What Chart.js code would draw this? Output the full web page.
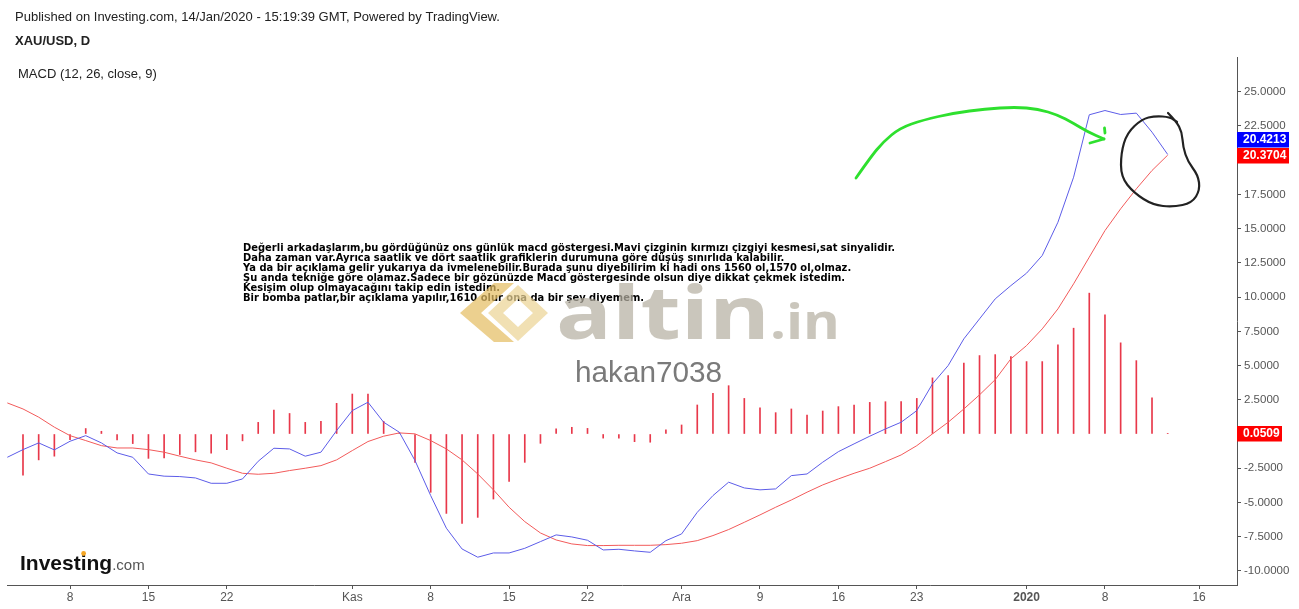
<!DOCTYPE html>
<html><head><meta charset="utf-8">
<script src="https://cdn.jsdelivr.net/npm/chart.js@4.4.1/dist/chart.umd.min.js"></script>
<style>html,body{margin:0;padding:0;background:#fff;overflow:hidden}canvas{display:block}</style>
</head><body>
<canvas id="c" width="1299" height="609"></canvas>
<script>
// ---- data ----
const dates = [
'2019-10-02','2019-10-03','2019-10-04','2019-10-07','2019-10-08','2019-10-09','2019-10-10','2019-10-11','2019-10-14','2019-10-15',
'2019-10-16','2019-10-17','2019-10-18','2019-10-21','2019-10-22','2019-10-23','2019-10-24','2019-10-25','2019-10-28','2019-10-29',
'2019-10-30','2019-10-31','2019-11-01','2019-11-04','2019-11-05','2019-11-06','2019-11-07','2019-11-08','2019-11-11','2019-11-12',
'2019-11-13','2019-11-14','2019-11-15','2019-11-18','2019-11-19','2019-11-20','2019-11-21','2019-11-22','2019-11-25','2019-11-26',
'2019-11-27','2019-11-28','2019-11-29','2019-12-02','2019-12-03','2019-12-04','2019-12-05','2019-12-06','2019-12-09','2019-12-10',
'2019-12-11','2019-12-12','2019-12-13','2019-12-16','2019-12-17','2019-12-18','2019-12-19','2019-12-20','2019-12-23','2019-12-24',
'2019-12-25','2019-12-26','2019-12-27','2019-12-30','2019-12-31','2020-01-01','2020-01-02','2020-01-03','2020-01-06','2020-01-07',
'2020-01-08','2020-01-09','2020-01-10','2020-01-13','2020-01-14','2020-01-15','2020-01-16'];

const macd = [
-1.70,-1.14,-0.65,-1.16,-0.53,-0.12,-0.65,-1.38,-1.70,-2.92,
-3.08,-3.11,-3.21,-3.60,-3.60,-3.28,-1.99,-1.04,-1.09,-1.62,
-1.33,0.25,1.71,2.32,0.86,0.13,-1.94,-4.50,-6.88,-8.40,
-9.00,-8.69,-8.69,-8.35,-7.86,-7.37,-7.52,-7.76,-8.47,-8.42,
-8.54,-8.64,-7.79,-7.30,-5.72,-4.50,-3.52,-3.94,-4.08,-4.01,
-3.04,-2.92,-2.06,-1.29,-0.72,-0.16,0.37,0.86,1.71,3.66,
5.00,6.95,8.41,9.87,10.84,11.75,13.04,15.47,18.76,23.32,
23.63,23.34,23.44,22.05,20.42];

const signal = [
2.27,1.83,1.23,0.50,-0.12,-0.48,-0.85,-1.02,-1.02,-1.14,
-1.33,-1.62,-1.89,-2.11,-2.50,-2.87,-2.94,-2.87,-2.67,-2.50,
-2.31,-1.89,-1.21,-0.55,-0.16,0.08,0.01,-0.48,-1.09,-1.89,
-2.92,-4.08,-5.35,-6.40,-7.23,-7.74,-8.03,-8.15,-8.15,-8.13,
-8.13,-8.13,-8.08,-7.98,-7.79,-7.42,-6.98,-6.45,-5.91,-5.35,
-4.82,-4.25,-3.72,-3.28,-2.87,-2.50,-2.02,-1.53,-0.85,0.01,
0.86,1.83,2.86,3.97,5.49,6.46,7.68,9.14,10.97,12.92,
14.86,16.45,17.91,19.25,20.37];

const hist = [
null,-3.00,-1.89,-1.62,-0.41,0.40,0.20,-0.44,-0.70,-1.78,
-1.75,-1.50,-1.30,-1.40,-1.15,-0.50,0.85,1.75,1.50,0.85,
0.93,2.24,2.92,2.92,0.93,0.10,-2.07,-4.26,-5.80,-6.53,
-6.09,-4.75,-3.46,-2.07,-0.68,0.37,0.49,0.41,-0.30,-0.30,
-0.56,-0.60,0.30,0.66,2.12,2.97,3.53,2.60,1.92,1.56,
1.83,1.39,1.68,2.00,2.12,2.31,2.36,2.36,2.60,4.10,
4.26,5.19,5.73,5.80,5.66,5.29,5.29,6.51,7.73,10.29,
8.70,6.66,5.36,2.64,0.05];

const xTickDates  = ['2019-10-08','2019-10-15','2019-10-22','2019-11-01','2019-11-08','2019-11-15','2019-11-22','2019-12-02','2019-12-09','2019-12-16','2019-12-23','2020-01-01','2020-01-08','2020-01-16'];
const xTickLabels = ['8','15','22','Kas','8','15','22','Ara','9','16','23','2020','8','16'];
const yTicks = [-10,-7.5,-5,-2.5,0,2.5,5,7.5,10,12.5,15,17.5,20,22.5,25];
const badgeLabels = ['20.4213','20.3704','0.0509'];

const headerTitle = 'Published on Investing.com, 14/Jan/2020 - 15:19:39 GMT, Powered by TradingView.';
const symbolTitle = 'XAU/USD, D';
const indicatorTitle = 'MACD (12, 26, close, 9)';
const noteLines = [
'Değerli arkadaşlarım,bu gördüğünüz ons günlük macd göstergesi.Mavi çizginin kırmızı çizgiyi kesmesi,sat sinyalidir.',
'Daha zaman var.Ayrıca saatlik ve dört saatlik grafiklerin durumuna göre düşüş sınırlıda kalabilir.',
'Ya da bir açıklama gelir yukarıya da ivmelenebilir.Burada şunu diyebilirim ki hadi ons 1560 ol,1570 ol,olmaz.',
'Şu anda tekniğe göre olamaz.Sadece bir gözünüzde Macd göstergesinde olsun diye dikkat çekmek istedim.',
'Kesişim olup olmayacağını takip edin istedim.',
'Bir bomba patlar,bir açıklama yapılır,1610 olur ona da bir şey diyemem.'];

// ---- helpers ----
const pts = arr => arr.map((v,i)=>({x:i,y:v}));
const SANS = '"Liberation Sans", Arial, sans-serif';

function smoothPath(ctx, p){
  ctx.beginPath();
  ctx.moveTo(p[0][0],p[0][1]);
  for(let i=1;i<p.length-1;i++){
    const mx=(p[i][0]+p[i+1][0])/2, my=(p[i][1]+p[i+1][1])/2;
    ctx.quadraticCurveTo(p[i][0],p[i][1],mx,my);
  }
  const l=p[p.length-1]; ctx.lineTo(l[0],l[1]);
  ctx.stroke();
}

const decor = {
  id:'decor',
  beforeDatasetsDraw(chart){
    const ctx = chart.ctx;
    ctx.save();
    // annotation text block
    ctx.font = 'bold 11px "DejaVu Sans", Verdana, sans-serif';
    ctx.fillStyle = '#000';
    ctx.textBaseline = 'middle';
    const w0 = ctx.measureText(noteLines[0]).width;
    const sx = 652 / w0;
    noteLines.forEach((t,i)=>{
      ctx.save();
      ctx.translate(243, 248.5 + i*10);
      ctx.scale(sx,1);
      ctx.fillText(t,0,0);
      ctx.restore();
    });
    // watermark chevron (gold)
    ctx.globalAlpha = 0.72;
    ctx.fillStyle = 'rgb(228,190,100)';
    ctx.beginPath();
    ctx.moveTo(460,313); ctx.lineTo(494,283); ctx.lineTo(514,283); ctx.lineTo(481,313);
    ctx.lineTo(514,342); ctx.lineTo(494,342); ctx.closePath(); ctx.fill();
    ctx.fillStyle = 'rgb(236,212,150)';
    ctx.beginPath();
    ctx.moveTo(488,313); ctx.lineTo(518,285); ctx.lineTo(548,313); ctx.lineTo(518,341); ctx.closePath();
    ctx.moveTo(503,313); ctx.lineTo(518,327); ctx.lineTo(533,313); ctx.lineTo(518,299); ctx.closePath();
    ctx.fill('evenodd');
    // watermark text
    ctx.fillStyle = 'rgb(182,176,162)';
    ctx.textBaseline = 'alphabetic';
    ctx.font = 'bold 74px "Open Sans", sans-serif';
    let w = ctx.measureText('altin').width;
    ctx.save(); ctx.translate(556,339); ctx.scale(214/w,1); ctx.fillText('altin',0,0); ctx.restore();
    ctx.font = 'bold 48px "Open Sans", sans-serif';
    w = ctx.measureText('.in').width;
    ctx.save(); ctx.translate(770,339); ctx.scale(70/w,1); ctx.fillText('.in',0,0); ctx.restore();
    ctx.globalAlpha = 1;
    // user name
    ctx.fillStyle = '#7a7a7a';
    ctx.font = '29px ' + SANS;
    w = ctx.measureText('hakan7038').width;
    ctx.save(); ctx.translate(575,382); ctx.scale(147/w,1); ctx.fillText('hakan7038',0,0); ctx.restore();
    // Investing.com logo
    ctx.fillStyle = '#111';
    ctx.font = 'bold 21px ' + SANS;
    ctx.fillText('Investing',20,570);
    const wi = ctx.measureText('Investing').width;
    const wInvest = ctx.measureText('Invest').width, wI = ctx.measureText('i').width;
    ctx.fillStyle = '#555';
    ctx.font = '15px ' + SANS;
    ctx.fillText('.com',20+wi,570);
    ctx.fillStyle = '#f5a623';
    ctx.beginPath(); ctx.arc(20+wInvest+wI/2, 553.5, 2.4, 0, Math.PI*2); ctx.fill();
    ctx.restore();
  },
  afterDatasetsDraw(chart){
    const ctx = chart.ctx;
    ctx.save();
    ctx.lineCap='round'; ctx.lineJoin='round';
    // green freehand arrow
    ctx.strokeStyle = '#2ee02e'; ctx.lineWidth = 2.8;
    smoothPath(ctx, [[856,178],[870,158],[883,142],[900,128],[923,120],[954,113],[985,109],[1015,107],[1038,109],[1058,115],[1073,123],[1088,132],[1104,139]]);
    ctx.beginPath(); ctx.moveTo(1104,139); ctx.lineTo(1090,143); ctx.stroke();
    ctx.beginPath(); ctx.moveTo(1104.5,128); ctx.lineTo(1105,133); ctx.stroke();
    // black freehand circle
    ctx.strokeStyle = '#222'; ctx.lineWidth = 2.2;
    smoothPath(ctx, [[1168,113],[1176,121],[1182,132],[1183,147],[1188,162],[1198,175],[1200,190],[1192,203],[1173,207],[1153,205],[1134,193],[1121,177],[1121,153],[1127,133],[1142,119],[1155,116],[1170,117],[1177,122]]);
    ctx.restore();
  },
  afterDraw(chart){
    const ctx = chart.ctx;
    const y = chart.scales.y;
    const ax = chart.chartArea.right;
    ctx.save();
    // header texts
    ctx.fillStyle = '#222';
    ctx.textBaseline = 'middle';
    ctx.font = '13px ' + SANS;
    ctx.fillText(headerTitle, 15, 17);
    ctx.font = 'bold 13px ' + SANS;
    ctx.fillText(symbolTitle, 15, 41);
    ctx.font = '13px ' + SANS;
    ctx.fillText(indicatorTitle, 18, 74);
    // price badges
    const redY = y.getPixelForValue(signal[signal.length-1]);
    const blueY = redY - 15.5;
    const histY = y.getPixelForValue(hist[hist.length-1]);
    const badge = (txt, cy, col, wdt) => {
      ctx.fillStyle = col;
      ctx.fillRect(ax, Math.round(cy-7.5), wdt, 15.5);
      ctx.fillStyle = '#fff';
      ctx.font = 'bold 12px ' + SANS;
      ctx.textBaseline = 'middle';
      ctx.fillText(txt, ax+6, cy+0.5);
    };
    badge(badgeLabels[0], blueY, '#0000ff', 52);
    badge(badgeLabels[1], redY, '#ff0000', 52);
    badge(badgeLabels[2], histY, '#ff0000', 45);
    ctx.restore();
  }
};

new Chart(document.getElementById('c').getContext('2d'), {
  type: 'bar',
  data: { datasets: [
    { type:'line', data: pts(macd), borderColor:'#5c5ce8', borderWidth:1, pointRadius:0, tension:0, order:1 },
    { type:'line', data: pts(signal), borderColor:'#f25a5a', borderWidth:1, pointRadius:0, tension:0, order:2 },
    { type:'bar', data: pts(hist), backgroundColor:'#e8384a', barThickness:1, grouped:false, order:3 }
  ]},
  options: {
    responsive:false, animation:false, devicePixelRatio:1,
    layout:{ padding:{ left:7, top:57, right:0, bottom:0 } },
    plugins:{ legend:{display:false}, tooltip:{enabled:false} },
    scales:{
      x:{
        type:'linear', min:-0.02, max:78.42, offset:false,
        grid:{ display:true, offset:false, drawOnChartArea:false, drawTicks:true, tickLength:4, color:'#555' },
        border:{ display:true, color:'#555', width:1 },
        afterBuildTicks: s => { s.ticks = xTickDates.map(d => ({ value: dates.indexOf(d) })); },
        afterFit: s => { s.height = 24; },
        ticks:{
          autoSkip:false, maxRotation:0, minRotation:0, padding:1, color:'#555',
          font: c => ({ family: SANS, size: 12, weight: (xTickLabels[c.index] === '2020') ? 'bold' : 'normal' }),
          callback: (v, i) => xTickLabels[i]
        }
      },
      y:{
        type:'linear', position:'right', min:-11.03, max:27.54,
        grid:{ display:true, drawOnChartArea:false, drawTicks:true, tickLength:4, color:'#555' },
        border:{ display:true, color:'#555', width:1 },
        afterBuildTicks: s => { s.ticks = yTicks.map(v => ({ value: v })); },
        afterFit: s => { s.width = 62; },
        ticks:{ padding:3, color:'#555', font:{ family: SANS, size: 11.5 }, callback: v => Number(v).toFixed(4) }
      }
    }
  },
  plugins:[decor]
});
</script>
</body></html>
